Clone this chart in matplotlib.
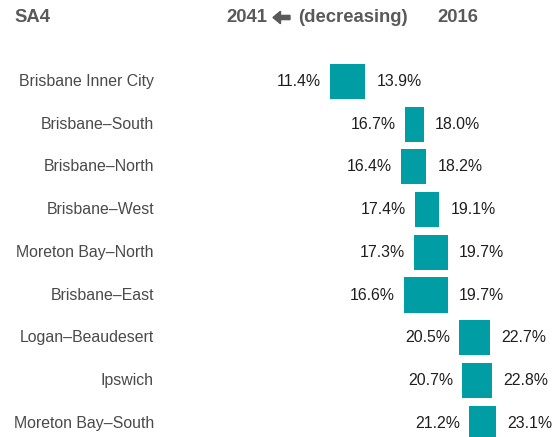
import matplotlib
matplotlib.use("Agg")
import matplotlib.pyplot as plt
import matplotlib.transforms as mtransforms
from matplotlib.patches import FancyArrow

plt.rcParams['font.family'] = ['Liberation Sans', 'DejaVu Sans']

categories = ["Brisbane Inner City", "Brisbane\u2013South", "Brisbane\u2013North",
              "Brisbane\u2013West", "Moreton Bay\u2013North", "Brisbane\u2013East",
              "Logan\u2013Beaudesert", "Ipswich", "Moreton Bay\u2013South"]
val_2041 = [11.4, 16.7, 16.4, 17.4, 17.3, 16.6, 20.5, 20.7, 21.2]
val_2016 = [13.9, 18.0, 18.2, 19.1, 19.7, 19.7, 22.7, 22.8, 23.1]

W, H, DPI = 560, 437, 100
fig = plt.figure(figsize=(W / DPI, H / DPI), dpi=DPI)
ax = fig.add_axes([0, 0, 1, 1])
ax.axis('off')

px_per_unit = 14.19
x0 = 11.4 - 330 / px_per_unit
ax.set_xlim(x0, x0 + W / px_per_unit)
row_h = 42.7
top = 81.5
ax.set_ylim((H - top) / row_h, -top / row_h)

teal = '#009DA5'
ys = list(range(len(categories)))
lefts = [min(a, b) for a, b in zip(val_2041, val_2016)]
widths = [abs(b - a) for a, b in zip(val_2041, val_2016)]
ax.barh(ys, widths, left=lefts, height=0.82, color=teal, edgecolor='none')

txt_color = '#1f1f1f'
lab_color = '#4a4a4a'
blend = mtransforms.blended_transform_factory(ax.transAxes, ax.transData)
for y, cat, a, b in zip(ys, categories, val_2041, val_2016):
    ax.annotate(f"{a:.1f}%", (min(a, b), y), xytext=(-6.5, 0), textcoords='offset points',
                ha='right', va='center', fontsize=11.4, color=txt_color)
    ax.annotate(f"{b:.1f}%", (max(a, b), y), xytext=(8, 0), textcoords='offset points',
                ha='left', va='center', fontsize=11.4, color=txt_color)
    ax.text(154 / W, y, cat, transform=blend, ha='right', va='center',
            fontsize=11.4, color=lab_color)

hdr_color = '#595959'
hy = 1 - 17 / H
fig.text(14 / W, hy, "SA4", ha='left', va='center', fontsize=13.3,
         fontweight='bold', color=hdr_color)
fig.text(226 / W, hy, "2041", ha='left', va='center', fontsize=13.3,
         fontweight='bold', color=hdr_color)
fig.text(298 / W, hy, "(decreasing)", ha='left', va='center', fontsize=13.3,
         fontweight='bold', color=hdr_color)
fig.text(437 / W, hy, "2016", ha='left', va='center', fontsize=13.3,
         fontweight='bold', color=hdr_color)

# bold left arrow in the header (pixel coordinates)
arrow_y = H - 17.5
arr = FancyArrow(290, arrow_y, -17, 0, width=4.2, head_width=12.5, head_length=7.5,
                 length_includes_head=True, color=hdr_color,
                 transform=mtransforms.IdentityTransform())
fig.patches.append(arr)

fig.savefig("out.png", dpi=DPI)
